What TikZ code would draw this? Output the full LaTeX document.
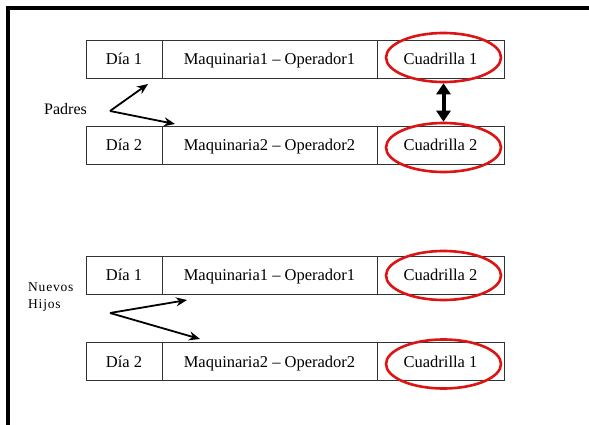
\documentclass[tikz,border=0pt]{standalone}
\usepackage{fontspec}
\setmainfont{Liberation Serif}
\newfontfamily\spacedfont[LetterSpace=6]{Liberation Serif}
\usetikzlibrary{arrows.meta,shapes.geometric}
\begin{document}
\begin{tikzpicture}[x=1pt,y=-1pt,
  cell/.style={draw=black!80, line width=0.9pt, minimum height=38pt, inner sep=0pt,
    text height=11pt, text depth=0pt, font=\fontsize{16.5}{18}\selectfont},
  c1/.style={cell, minimum width=76pt},
  c2/.style={cell, minimum width=215pt},
  c3/.style={cell, minimum width=127pt},
  ring/.style={draw={rgb,255:red,220;green,20;blue,20}, line width=2.6pt, ellipse, minimum width=115pt, minimum height=49pt, inner sep=0pt},
  lbl/.style={font=\fontsize{16}{18}\selectfont, inner sep=0pt},
  small/.style={font=\spacedfont\fontsize{13.5}{16.5}\selectfont, inner sep=0pt, align=left},
  pointer/.style={-{Stealth[length=11pt,width=9pt]}, line width=1.8pt},
  swap/.style={{Triangle[length=11pt,width=14pt]}-{Triangle[length=11pt,width=14pt]}, line width=4pt}
]
\useasboundingbox (0,0) rectangle (589,425);
% frame
\draw[line width=4pt] (8,425) -- (8,8) -- (589,8);

% Padres
\node[c1] (a1) at (124,59) {Día 1};
\node[c2] (a2) at (269.5,59) {Maquinaria1 – Operador1};
\node[c3] (a3) at (440.5,59) {Cuadrilla 1};
\node[c1] (b1) at (124,145) {Día 2};
\node[c2] (b2) at (269.5,145) {Maquinaria2 – Operador2};
\node[c3] (b3) at (440.5,145) {Cuadrilla 2};
\node[ring] (ra) at (443.5,57.5) {};
\node[ring] (rb) at (443.5,147.5) {};
\draw[swap] (ra.south) -- (rb.north);

\node[lbl, anchor=base west] (padres) at (44,115) {Padres};
\coordinate (pp) at (110,111);
\coordinate (pe1) at (148,84);
\coordinate (pe2) at (175,124);
\draw[pointer] (pp) -- (pe1);
\draw[pointer] (pp) -- (pe2);

% Nuevos hijos
\node[c1] (h1) at (124,275) {Día 1};
\node[c2] (h2) at (269.5,275) {Maquinaria1 – Operador1};
\node[c3] (h3) at (440.5,275) {Cuadrilla 2};
\node[c1] (g1) at (124,361.5) {Día 2};
\node[c2] (g2) at (269.5,361.5) {Maquinaria2 – Operador2};
\node[c3] (g3) at (440.5,361.5) {Cuadrilla 1};
\node[ring] (rh) at (443.5,275.5) {};
\node[ring] (rg) at (443.5,364) {};

\node[small, anchor=base west] (hijos) at (28,308) {Nuevos\\Hijos};
\coordinate (hp) at (110,313);
\coordinate (he1) at (187,300);
\coordinate (he2) at (200,339);
\draw[pointer] (hp) -- (he1);
\draw[pointer] (hp) -- (he2);
\end{tikzpicture}
\end{document}
